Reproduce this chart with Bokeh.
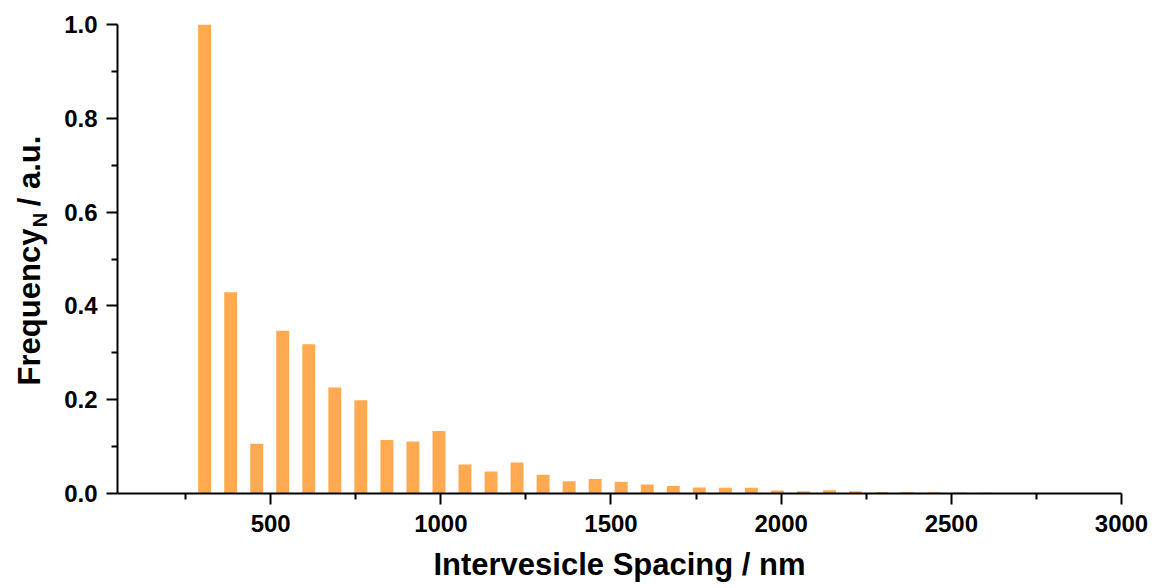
from bokeh.plotting import figure
from bokeh.layouts import row
from bokeh.models import Range1d, FixedTicker, NumeralTickFormatter
from bokeh.core.properties import value
from bokeh.embed import file_html
from bokeh.resources import INLINE
import math

# ---- data ----
spacing_nm = [306, 382.5, 459, 535.5, 612, 688.5, 765, 841.5, 918, 994.5,
              1071, 1147.5, 1224, 1300.5, 1377, 1453.5, 1530, 1606.5, 1683, 1759.5,
              1836, 1912.5, 1989, 2065.5, 2142, 2218.5, 2295, 2371.5, 2448, 2524.5, 2601]
frequency = [1.0, 0.429, 0.106, 0.347, 0.318, 0.226, 0.199, 0.114, 0.111, 0.133,
             0.062, 0.047, 0.066, 0.040, 0.026, 0.031, 0.025, 0.019, 0.016, 0.013,
             0.012, 0.012, 0.0065, 0.005, 0.007, 0.005, 0.003, 0.003, 0.0025, 0.002, 0.0015]
x_major = [500, 1000, 1500, 2000, 2500, 3000]
x_minor = [250, 750, 1250, 1750, 2250, 2750]
y_major = [0.0, 0.2, 0.4, 0.6, 0.8, 1.0]
y_minor = [0.1, 0.3, 0.5, 0.7, 0.9]
x_title = "Intervesicle Spacing / nm"
y_title_main = "Frequency"
y_title_sub = "N"
y_title_rest = "/ a.u."

X0, X1 = 50, 3000
Y0, Y1 = 0.0, 1.0
W, H = 1157, 588
LW = 55                      # width of the strip holding the y title
TOP, BOTTOM = 24, 493        # frame top / bottom (px from top of the picture)
FONT = "Liberation Sans"
BAR_COLOR = "#FFAA50"

# ---- left strip with the rotated y-axis title ----
# its frame is aligned with the main frame; data y = H - (px from top)
yt = figure(width=LW, height=H, output_backend="svg", toolbar_location=None,
            x_range=Range1d(0, LW), y_range=Range1d(H - BOTTOM, H - TOP),
            x_axis_type=None, y_axis_type=None,
            min_border_left=0, min_border_right=0,
            min_border_top=TOP, min_border_bottom=H - BOTTOM)
yt.outline_line_color = None
yt.grid.visible = False

# centres of the three pieces (x px from left, px from top)
common = dict(angle=math.pi / 2, text_font=value(FONT), text_font_style="bold",
              text_color="black", text_align="center", text_baseline="middle")
yt.text(x=[28.5], y=[H - 306.5], text=[y_title_main], text_font_size="31px", **common)
yt.text(x=[39.5], y=[H - 219.5], text=[y_title_sub], text_font_size="20px", **common)
yt.text(x=[28.5], y=[H - 170.5], text=[y_title_rest], text_font_size="31px", **common)

# ---- main chart ----
p = figure(width=W - LW, height=H, output_backend="svg", toolbar_location=None,
           x_range=Range1d(X0, X1), y_range=Range1d(Y0, Y1),
           min_border_left=117 - LW, min_border_right=W - 1121,
           min_border_top=TOP, min_border_bottom=H - BOTTOM)
p.outline_line_color = None
p.grid.visible = False

p.vbar(x=spacing_nm, top=frequency, width=38, bottom=0, fill_color=BAR_COLOR, line_color=None)

for ax, maj, mnr in ((p.xaxis[0], x_major, x_minor), (p.yaxis[0], y_major, y_minor)):
    ax.ticker = FixedTicker(ticks=maj, minor_ticks=mnr)
    ax.axis_line_width = 2
    ax.axis_line_color = "black"
    ax.major_tick_line_width = 2
    ax.minor_tick_line_width = 2
    ax.major_tick_line_color = "black"
    ax.minor_tick_line_color = "black"
    ax.major_tick_out = 11
    ax.major_tick_in = 0
    ax.minor_tick_out = 6
    ax.minor_tick_in = 0
    ax.major_label_text_font = FONT
    ax.major_label_text_font_style = "bold"
    ax.major_label_text_font_size = "24px"
    ax.major_label_text_color = "black"

p.xaxis.major_label_standoff = 10
p.yaxis.major_label_standoff = 9
p.xaxis.formatter = NumeralTickFormatter(format="0")
p.yaxis.formatter = NumeralTickFormatter(format="0.0")

p.xaxis.axis_label = x_title
p.xaxis.axis_label_text_font = FONT
p.xaxis.axis_label_text_font_style = "bold"
p.xaxis.axis_label_text_font_size = "31px"
p.xaxis.axis_label_text_color = "black"
p.xaxis.axis_label_standoff = 12

open("out.html", "w").write(file_html(row(yt, p, spacing=0), INLINE))
